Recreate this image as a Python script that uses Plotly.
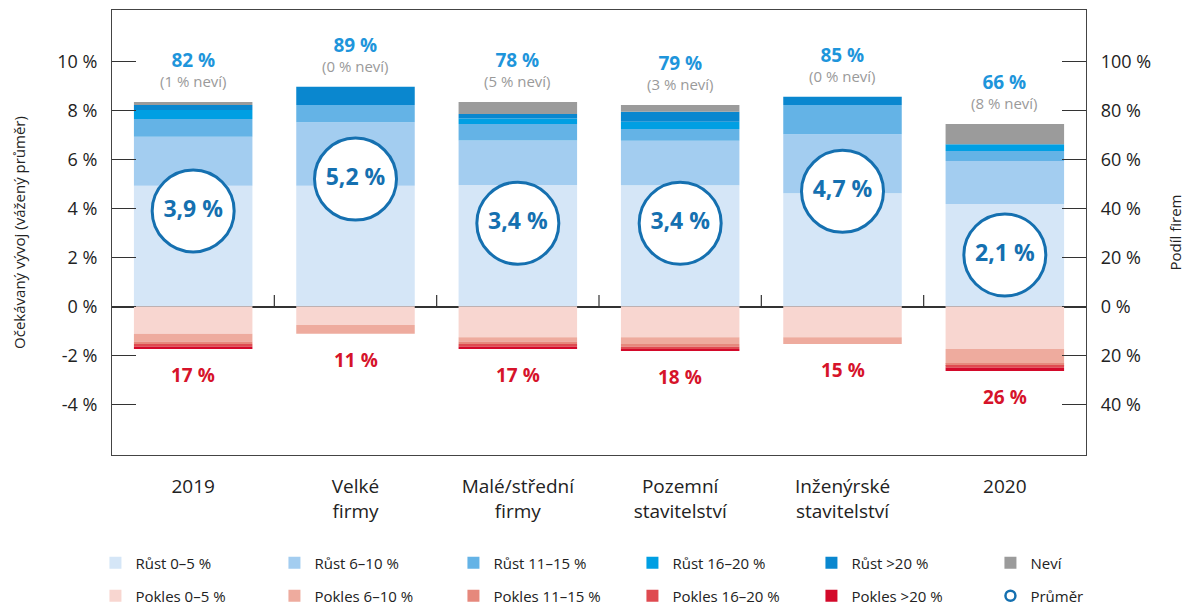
import plotly.graph_objects as go

# ---------------- data ----------------
categories = ["2019", "Velké<br>firmy", "Malé/střední<br>firmy", "Pozemní<br>stavitelství",
              "Inženýrské<br>stavitelství", "2020"]

rust_0_5 = [49.3, 49.3, 49.6, 49.5, 46.2, 41.8]
rust_6_10 = [20.0, 25.9, 18.1, 18.1, 24.1, 17.6]
rust_11_15 = [7.2, 7.0, 6.8, 4.8, 11.9, 4.1]
rust_16_20 = [3.7, 0.0, 2.2, 3.0, 0.0, 2.7]
rust_20_plus = [2.0, 7.5, 1.9, 4.1, 3.4, 0.0]
nevi = [1.3, 0.0, 4.9, 2.7, 0.0, 8.3]

pokles_0_5 = [11.1, 7.5, 12.5, 12.5, 12.5, 17.3]
pokles_6_10 = [3.2, 3.6, 1.8, 2.8, 2.8, 6.1]
pokles_11_15 = [1.0, 0.0, 1.0, 1.1, 0.0, 0.8]
pokles_16_20 = [1.1, 0.0, 1.1, 0.9, 0.0, 0.8]
pokles_20_plus = [0.9, 0.0, 0.9, 0.9, 0.0, 1.3]

growth_total = [82, 89, 78, 79, 85, 66]
nevi_label = [1, 0, 5, 3, 0, 8]
decline_total = [17, 11, 17, 18, 15, 26]
average = [3.9, 5.2, 3.4, 3.4, 4.7, 2.1]

left_tickvals = [-4, -2, 0, 2, 4, 6, 8, 10]
left_ticktext = ["-4 %", "-2 %", "0 %", "2 %", "4 %", "6 %", "8 %", "10 %"]
right_tickvals = [-40, -20, 0, 20, 40, 60, 80, 100]
right_ticktext = ["40 %", "20 %", "0 %", "20 %", "40 %", "60 %", "80 %", "100 %"]

# ---------------- styles ----------------
FONT = "'Open Sans', 'Noto Sans', sans-serif"
TXT = "#222222"
growth_series = [
    ("Růst 0–5 %", rust_0_5, "#d5e6f7"),
    ("Růst 6–10 %", rust_6_10, "#a3cdf0"),
    ("Růst 11–15 %", rust_11_15, "#64b3e6"),
    ("Růst 16–20 %", rust_16_20, "#009fe3"),
    ("Růst >20 %", rust_20_plus, "#0a87cf"),
    ("Neví", nevi, "#9b9b9b"),
]
decline_series = [
    ("Pokles 0–5 %", pokles_0_5, "#f8d6d0"),
    ("Pokles 6–10 %", pokles_6_10, "#eeab9e"),
    ("Pokles 11–15 %", pokles_11_15, "#e6887c"),
    ("Pokles 16–20 %", pokles_16_20, "#df4a50"),
    ("Pokles >20 %", pokles_20_plus, "#d3092a"),
]

fig = go.Figure()
for name, vals, col in growth_series:
    fig.add_trace(go.Bar(x=categories, y=vals, name=name, marker=dict(color=col, line=dict(width=0)),
                         yaxis="y", legend="legend", hoverinfo="skip"))
for name, vals, col in decline_series:
    fig.add_trace(go.Bar(x=categories, y=[-v for v in vals], name=name,
                         marker=dict(color=col, line=dict(width=0)),
                         yaxis="y", legend="legend2", hoverinfo="skip"))

CIRC = "#1570b0"
fig.add_trace(go.Scatter(
    x=categories, y=average, yaxis="y2", mode="markers+text",
    text=[f"{v:.1f} %".replace(".", ",") for v in average],
    textposition="middle center",
    textfont=dict(family=FONT, size=23, color=CIRC, weight="bold"),
    marker=dict(size=82, color="white", line=dict(color=CIRC, width=3)),
    showlegend=False, hoverinfo="skip"))
fig.add_trace(go.Scatter(
    x=[None], y=[None], yaxis="y2", mode="markers", name="Průměr", legend="legend2",
    marker=dict(size=10, color="white", line=dict(color=CIRC, width=2.5))))

# labels above / below bars (x given as category index)
for i, c in enumerate(categories):
    top = rust_0_5[i] + rust_6_10[i] + rust_11_15[i] + rust_16_20[i] + rust_20_plus[i] + nevi[i]
    bottom = -(pokles_0_5[i] + pokles_6_10[i] + pokles_11_15[i] + pokles_16_20[i] + pokles_20_plus[i])
    label = (f"<span style='font-size:19px;color:#1e95db'><b>{growth_total[i]} %</b></span>"
             f"<br>({nevi_label[i]} % neví)")
    fig.add_annotation(x=i, y=top, xref="x", yref="y", text=label,
                       showarrow=False, yanchor="middle", yshift=33,
                       font=dict(family=FONT, size=15, color="#9a9a9a"))
    fig.add_annotation(x=i, y=bottom, xref="x", yref="y", text=f"<b>{decline_total[i]} %</b>",
                       showarrow=False, yanchor="middle", yshift=-26,
                       font=dict(family=FONT, size=19, color="#d6132a"))

# category separator ticks on the zero line
for i in range(len(categories) - 1):
    fig.add_shape(type="line", xref="x", yref="y", x0=i + 0.5, x1=i + 0.5, y0=0, y1=4.7,
                  line=dict(color="#333333", width=1.2))

fig.update_layout(
    width=1187, height=605,
    margin=dict(l=112, r=101, t=10, b=150, autoexpand=False),
    paper_bgcolor="white", plot_bgcolor="white",
    barmode="relative", bargap=0.27,
    font=dict(family=FONT, color=TXT),
    xaxis=dict(type="category", categoryorder="array", categoryarray=categories,
               range=[-0.5, len(categories) - 0.5], autorange=False,
               showgrid=False, showline=True, mirror=True, linecolor="#444444",
               linewidth=1.2, ticks="outside", ticklen=14, tickcolor="rgba(0,0,0,0)",
               tickfont=dict(family=FONT, size=19, color=TXT), zeroline=False),
    yaxis=dict(side="right", range=[-60.6, 121], tickvals=right_tickvals, ticktext=right_ticktext,
               showgrid=False, showline=True, linecolor="#444444", linewidth=1.2,
               ticks="inside", ticklen=24, tickcolor="#333333", tickwidth=1,
               ticklabelstandoff=10,
               tickfont=dict(family=FONT, size=18, color=TXT),
               zeroline=True, zerolinecolor="#333333", zerolinewidth=1.5,
               title=dict(text="Podíl firem", font=dict(family=FONT, size=15, color=TXT), standoff=20)),
    yaxis2=dict(side="left", overlaying="y", range=[-6.06, 12.1], tickvals=left_tickvals,
                ticktext=left_ticktext, showgrid=False, showline=True, linecolor="#444444", linewidth=1.2,
                ticks="inside", ticklen=24, tickcolor="#333333", tickwidth=1,
                ticklabelstandoff=10,
                tickfont=dict(family=FONT, size=18, color=TXT), zeroline=False,
                title=dict(text="Očekávaný vývoj (vážený průměr)",
                           font=dict(family=FONT, size=15, color=TXT), standoff=27)),
    legend=dict(orientation="h", x=-0.017, xanchor="left",
                y=-0.2427, yanchor="middle",
                entrywidth=134, font=dict(family=FONT, size=15, color=TXT), traceorder="normal",
                bgcolor="rgba(0,0,0,0)"),
    legend2=dict(orientation="h", x=-0.017, xanchor="left",
                 y=-0.3169, yanchor="middle",
                 entrywidth=134, font=dict(family=FONT, size=15, color=TXT), traceorder="normal",
                 bgcolor="rgba(0,0,0,0)"),
)

fig.write_html("out.html")
